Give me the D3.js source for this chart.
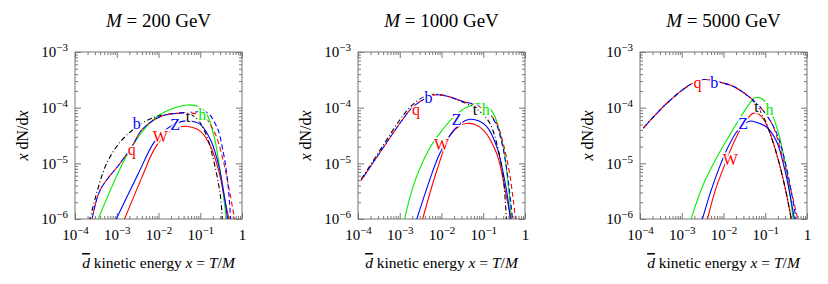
<!DOCTYPE html>
<html>
<head>
<meta charset="utf-8">
<script src="https://cdn.jsdelivr.net/npm/d3@7"></script>
<style>
  body { margin: 0; background: #fff; }
  svg text, svg tspan { font-family: "Liberation Serif", "Times New Roman", Times, serif !important; }
  .tick text { font-size: 15px; fill: #000; }
</style>
</head>
<body>
<div id="chart"></div>
<script>
// masses of the three panels (GeV)
const masses = [200, 1000, 5000];
const seriesNames = ["h", "W", "Z", "t", "q", "b"];

// axis ticks
const xMajor = [1e-4, 1e-3, 1e-2, 1e-1, 1];
const yMajor = [1e-6, 1e-5, 1e-4, 1e-3];

// ---- M = 200 GeV : [x, x dN/dx]
const q200 = [[2.5e-4, 9e-7], [4.0e-4, 3.3e-6], [1.2e-3, 1.0e-5], [2.3e-3, 2.0e-5], [4.0e-3, 4.0e-5], [1.1e-2, 6.9e-5], [2.75e-2, 7.9e-5], [6.8e-2, 7.9e-5], [0.117, 7.1e-5], [0.224, 3.5e-5], [0.355, 1.12e-5], [0.50, 3.2e-6], [0.68, 9e-7]];
const b200 = [[2.5e-4, 9e-7], [4.0e-4, 3.3e-6], [1.2e-3, 1.0e-5], [2.3e-3, 2.0e-5], [4.0e-3, 4.0e-5], [1.1e-2, 6.9e-5], [2.75e-2, 7.9e-5], [6.8e-2, 8.3e-5], [0.14, 8.3e-5], [0.25, 4.5e-5], [0.355, 1.6e-5], [0.45, 5.0e-6], [0.54, 9e-7]];
const t200 = [[2.2e-4, 9e-7], [3.55e-4, 3.55e-6], [5.75e-4, 1.0e-5], [1.2e-3, 2.4e-5], [3.6e-3, 5.0e-5], [1.0e-2, 7.1e-5], [2.5e-2, 7.9e-5], [5.1e-2, 7.9e-5], [8.9e-2, 6.0e-5], [0.14, 3.2e-5], [0.20, 1.3e-5], [0.30, 2.8e-6], [0.34, 9e-7]];
const h200 = [[3.4e-4, 9e-7], [1.74e-3, 1.38e-5], [5.2e-3, 4.6e-5], [1.1e-2, 7.6e-5], [2.5e-2, 1.0e-4], [5.1e-2, 1.12e-4], [8.9e-2, 1.05e-4], [0.14, 7.9e-5], [0.22, 2.8e-5], [0.32, 5.0e-6], [0.43, 9e-7]];
const Z200 = [[9.1e-4, 9e-7], [3.2e-3, 6.3e-6], [7.9e-3, 2.4e-5], [1.6e-2, 4.2e-5], [3.2e-2, 5.5e-5], [5.6e-2, 5.75e-5], [0.1, 5.0e-5], [0.178, 2.6e-5], [0.28, 8.9e-6], [0.38, 2.5e-6], [0.46, 9e-7]];
const W200 = [[1.45e-3, 9e-7], [4.0e-3, 5.6e-6], [7.9e-3, 1.78e-5], [1.6e-2, 3.5e-5], [3.2e-2, 4.5e-5], [5.0e-2, 4.6e-5], [0.1, 3.8e-5], [0.178, 2.0e-5], [0.28, 7.1e-6], [0.40, 2.0e-6], [0.50, 9e-7]];
const labels200 = [["b", 3.0e-3, 5.2e-5], ["q", 2.3e-3, 1.74e-5], ["Z", 2.5e-2, 4.9e-5], ["W", 1.1e-2, 3.0e-5], ["t", 5.1e-2, 6.9e-5], ["h", 0.112, 7.4e-5]];

// ---- M = 1000 GeV
const q1000 = [[1.2e-4, 5.0e-6], [4.0e-4, 1.9e-5], [1.0e-3, 5.2e-5], [2.0e-3, 1.0e-4], [4.0e-3, 1.45e-4], [7.1e-3, 1.7e-4], [1.4e-2, 1.6e-4], [3.2e-2, 1.3e-4], [6.9e-2, 1.1e-4], [0.12, 8.7e-5], [0.21, 5.2e-5], [0.30, 2.3e-5], [0.44, 5.75e-6], [0.60, 9e-7]];
const b1000 = [[1.2e-4, 5.0e-6], [4.0e-4, 1.9e-5], [1.0e-3, 5.2e-5], [2.0e-3, 1.0e-4], [4.0e-3, 1.45e-4], [7.1e-3, 1.7e-4], [1.4e-2, 1.6e-4], [3.2e-2, 1.3e-4], [6.9e-2, 1.12e-4], [0.12, 8.7e-5], [0.20, 5.2e-5], [0.28, 2.3e-5], [0.38, 6.3e-6], [0.51, 9e-7]];
const t1000 = [[1.2e-4, 5.2e-6], [4.0e-4, 2.1e-5], [1.0e-3, 6.0e-5], [2.0e-3, 1.12e-4], [4.0e-3, 1.6e-4], [7.1e-3, 1.74e-4], [1.4e-2, 1.6e-4], [3.2e-2, 1.26e-4], [6.3e-2, 1.0e-4], [0.1, 7.4e-5], [0.145, 5.2e-5], [0.21, 2.3e-5], [0.30, 5.75e-6], [0.36, 9e-7]];
const h1000 = [[1.26e-3, 9e-7], [2.24e-3, 4.5e-6], [5.0e-3, 1.78e-5], [1.0e-2, 3.8e-5], [2.0e-2, 6.9e-5], [4.0e-2, 1.02e-4], [7.1e-2, 1.17e-4], [0.112, 1.12e-4], [0.174, 7.9e-5], [0.30, 2.0e-5], [0.40, 3.8e-6], [0.48, 9e-7]];
const Z1000 = [[2.45e-3, 9e-7], [5.2e-3, 5.0e-6], [9.1e-3, 1.5e-5], [2.0e-2, 4.0e-5], [3.55e-2, 5.75e-5], [5.0e-2, 6.2e-5], [7.9e-2, 5.75e-5], [0.12, 4.6e-5], [0.21, 2.0e-5], [0.36, 3.3e-6], [0.45, 9e-7]];
const W1000 = [[3.4e-3, 9e-7], [7.8e-3, 7.6e-6], [1.6e-2, 3.2e-5], [2.8e-2, 4.8e-5], [4.0e-2, 5.2e-5], [6.3e-2, 5.0e-5], [0.1, 4.0e-5], [0.21, 1.5e-5], [0.36, 2.5e-6], [0.48, 9e-7]];
const labels1000 = [["b", 4.9e-3, 1.5e-4], ["q", 2.45e-3, 9.3e-5], ["t", 6.3e-2, 9.3e-5], ["h", 0.115, 9.3e-5], ["Z", 2.3e-2, 6.0e-5], ["W", 1.0e-2, 2.2e-5]];

// ---- M = 5000 GeV
const q5000 = [[1.2e-4, 4.3e-5], [4.4e-4, 1.2e-4], [1.6e-3, 2.6e-4], [3.3e-3, 3.2e-4], [6.9e-3, 2.95e-4], [1.74e-2, 2.4e-4], [3.55e-2, 1.7e-4], [6.2e-2, 1.2e-4], [0.107, 7.4e-5], [0.155, 4.6e-5], [0.27, 1.15e-5], [0.43, 2.9e-6], [0.62, 9e-7]];
const b5000 = [[1.2e-4, 4.3e-5], [4.4e-4, 1.2e-4], [1.6e-3, 2.6e-4], [3.3e-3, 3.2e-4], [6.9e-3, 2.95e-4], [1.74e-2, 2.4e-4], [3.55e-2, 1.7e-4], [6.2e-2, 1.2e-4], [0.107, 7.4e-5], [0.186, 3.5e-5], [0.32, 8.7e-6], [0.56, 9e-7]];
const t5000 = [[1.2e-4, 4.3e-5], [4.4e-4, 1.2e-4], [1.6e-3, 2.6e-4], [3.3e-3, 3.2e-4], [6.9e-3, 2.95e-4], [1.74e-2, 2.4e-4], [3.55e-2, 1.7e-4], [6.2e-2, 1.12e-4], [8.9e-2, 6.9e-5], [0.107, 5.2e-5], [0.186, 1.5e-5], [0.295, 3.8e-6], [0.43, 9e-7]];
const h5000 = [[1.6e-3, 9e-7], [3.2e-3, 4.0e-6], [6.3e-3, 1.12e-5], [1.26e-2, 2.8e-5], [2.5e-2, 6.6e-5], [4.0e-2, 1.12e-4], [5.6e-2, 1.51e-4], [7.9e-2, 1.48e-4], [0.107, 1.2e-4], [0.186, 4.6e-5], [0.32, 7.6e-6], [0.47, 9e-7]];
const Z5000 = [[3.0e-3, 9e-7], [5.0e-3, 3.2e-6], [7.9e-3, 8.3e-6], [1.26e-2, 1.9e-5], [2.0e-2, 3.55e-5], [3.2e-2, 5.2e-5], [4.5e-2, 5.75e-5], [6.3e-2, 5.4e-5], [0.107, 4.5e-5], [0.186, 2.5e-5], [0.295, 7.6e-6], [0.51, 9e-7]];
const W5000 = [[4.0e-3, 9e-7], [6.3e-3, 3.2e-6], [1.0e-2, 8.3e-6], [1.6e-2, 2.0e-5], [2.5e-2, 4.0e-5], [3.55e-2, 6.0e-5], [5.1e-2, 7.9e-5], [7.1e-2, 7.6e-5], [0.107, 5.0e-5], [0.186, 1.5e-5], [0.32, 2.9e-6], [0.43, 9e-7]];
const labels5000 = [["q", 2.4e-3, 2.75e-4], ["b", 6.0e-3, 2.75e-4], ["t", 6.2e-2, 1.05e-4], ["h", 0.126, 9.1e-5], ["Z", 2.95e-2, 5.2e-5], ["W", 1.45e-2, 1.17e-5]];

const panels = [
  {q: q200, b: b200, t: t200, h: h200, Z: Z200, W: W200, labels: labels200},
  {q: q1000, b: b1000, t: t1000, h: h1000, Z: Z1000, W: W1000, labels: labels1000},
  {q: q5000, b: b5000, t: t5000, h: h5000, Z: Z5000, W: W5000, labels: labels5000}
];

const color = {q: "#ff0000", b: "#0000ff", t: "#000000", h: "#00ee00", Z: "#0000ff", W: "#ff0000"};
const dash = {q: "5,3", b: "5,3", t: "5,2.5,1,2.5", h: null, Z: null, W: null};
const dashOffset = {q: 0, b: 4, t: 0, h: 0, Z: 0, W: 0};

const panelLeft = [75, 358, 640];
const plotTop = 52, plotW = 167, plotH = 167;
const serif = '"Liberation Serif", "Times New Roman", Times, serif';

const svg = d3.select("#chart").append("svg")
  .attr("width", 828)
  .attr("height", 284)
  .attr("font-family", serif);

function powLabel(sel, v) {
  const e = Math.round(Math.log10(v));
  sel.text(null);
  if (e === 0) { sel.text("1"); return; }
  sel.append("tspan").text("10");
  sel.append("tspan").attr("dy", -6).attr("font-size", 11).text("\u2212" + Math.abs(e));
}

masses.forEach((m, i) => {
  const p = panels[i];
  const g = svg.append("g").attr("transform", `translate(${panelLeft[i]},${plotTop})`);
  const x = d3.scaleLog().domain([1e-4, 1]).range([0, plotW]);
  const y = d3.scaleLog().domain([1e-6, 1e-3]).range([plotH, 0]);
  const isMajor = (list, v) => list.some(t => Math.abs(v - t) / t < 1e-6);
  const xMinor = x.ticks().filter(v => !isMajor(xMajor, v));
  const yMinor = y.ticks().filter(v => !isMajor(yMajor, v));

  // ticks on all four sides, pointing inward
  const sides = [
    [d3.axisBottom, x, `translate(0,${plotH})`, xMajor, xMinor],
    [d3.axisTop, x, "translate(0,0)", xMajor, xMinor],
    [d3.axisLeft, y, "translate(0,0)", yMajor, yMinor],
    [d3.axisRight, y, `translate(${plotW},0)`, yMajor, yMinor]
  ];
  sides.forEach(([axis, s, tr, major, minor], k) => {
    [[major, -6], [minor, -3]].forEach(([vals, size], j) => {
      const a = g.append("g").attr("transform", tr)
        .call(axis(s).tickValues(vals).tickSize(size).tickFormat(""));
      a.attr("font-family", serif).attr("font-size", 15);
      a.select(".domain").remove();
      a.selectAll(".tick line").attr("stroke", "#777");
      if (j === 0 && k === 0) {
        a.selectAll(".tick text").attr("y", 21).attr("dy", null)
          .each(function (d) { powLabel(d3.select(this), d); });
      } else if (j === 0 && k === 2) {
        a.selectAll(".tick text").attr("x", -7).attr("dy", "0.33em")
          .each(function (d) { powLabel(d3.select(this), d); });
      } else {
        a.selectAll(".tick text").remove();
      }
    });
  });

  g.append("rect").attr("width", plotW).attr("height", plotH)
    .attr("fill", "none").attr("stroke", "#777").attr("stroke-width", 1);

  g.append("clipPath").attr("id", "clip" + i)
    .append("rect").attr("width", plotW).attr("height", plotH);

  const line = d3.line()
    .x(d => x(d[0]))
    .y(d => y(d[1]))
    .curve(d3.curveCatmullRom.alpha(0.5));

  const plot = g.append("g").attr("clip-path", `url(#clip${i})`);
  seriesNames.forEach(n => {
    plot.append("path")
      .datum(p[n])
      .attr("d", line)
      .attr("fill", "none")
      .attr("stroke", color[n])
      .attr("stroke-width", 1.1)
      .attr("stroke-dasharray", dash[n])
      .attr("stroke-dashoffset", dashOffset[n]);
  });

  plot.selectAll(".lab").data(p.labels).enter().append("text")
    .attr("x", d => x(d[1]))
    .attr("y", d => y(d[2]))
    .attr("dy", "0.33em")
    .attr("text-anchor", "middle")
    .attr("font-size", 16)
    .attr("fill", d => color[d[0]])
    .attr("stroke", "#fff")
    .attr("stroke-width", 3)
    .attr("paint-order", "stroke")
    .text(d => d[0]);

  // title
  const title = svg.append("text")
    .attr("x", panelLeft[i] + plotW / 2)
    .attr("y", 27)
    .attr("text-anchor", "middle")
    .attr("font-size", 19);
  title.append("tspan").attr("font-style", "italic").text("M");
  title.append("tspan").text(" = " + m + " GeV");

  // y title
  const yt = svg.append("text")
    .attr("transform", `translate(${panelLeft[i] - 47},${plotTop + plotH / 2}) rotate(-90)`)
    .attr("text-anchor", "middle")
    .attr("font-size", 16);
  yt.append("tspan").attr("font-style", "italic").text("x");
  yt.append("tspan").text(" dN/d");
  yt.append("tspan").attr("font-style", "italic").text("x");

  // x title
  const xt = svg.append("text")
    .attr("x", panelLeft[i] + plotW / 2)
    .attr("y", 268)
    .attr("text-anchor", "middle")
    .attr("font-size", 15.5);
  xt.append("tspan").attr("font-style", "italic").attr("text-decoration", "overline").text("d");
  xt.append("tspan").text(" kinetic energy ");
  xt.append("tspan").attr("font-style", "italic").text("x");
  xt.append("tspan").text(" = ");
  xt.append("tspan").attr("font-style", "italic").text("T");
  xt.append("tspan").text("/");
  xt.append("tspan").attr("font-style", "italic").text("M");
});
</script>
</body>
</html>
